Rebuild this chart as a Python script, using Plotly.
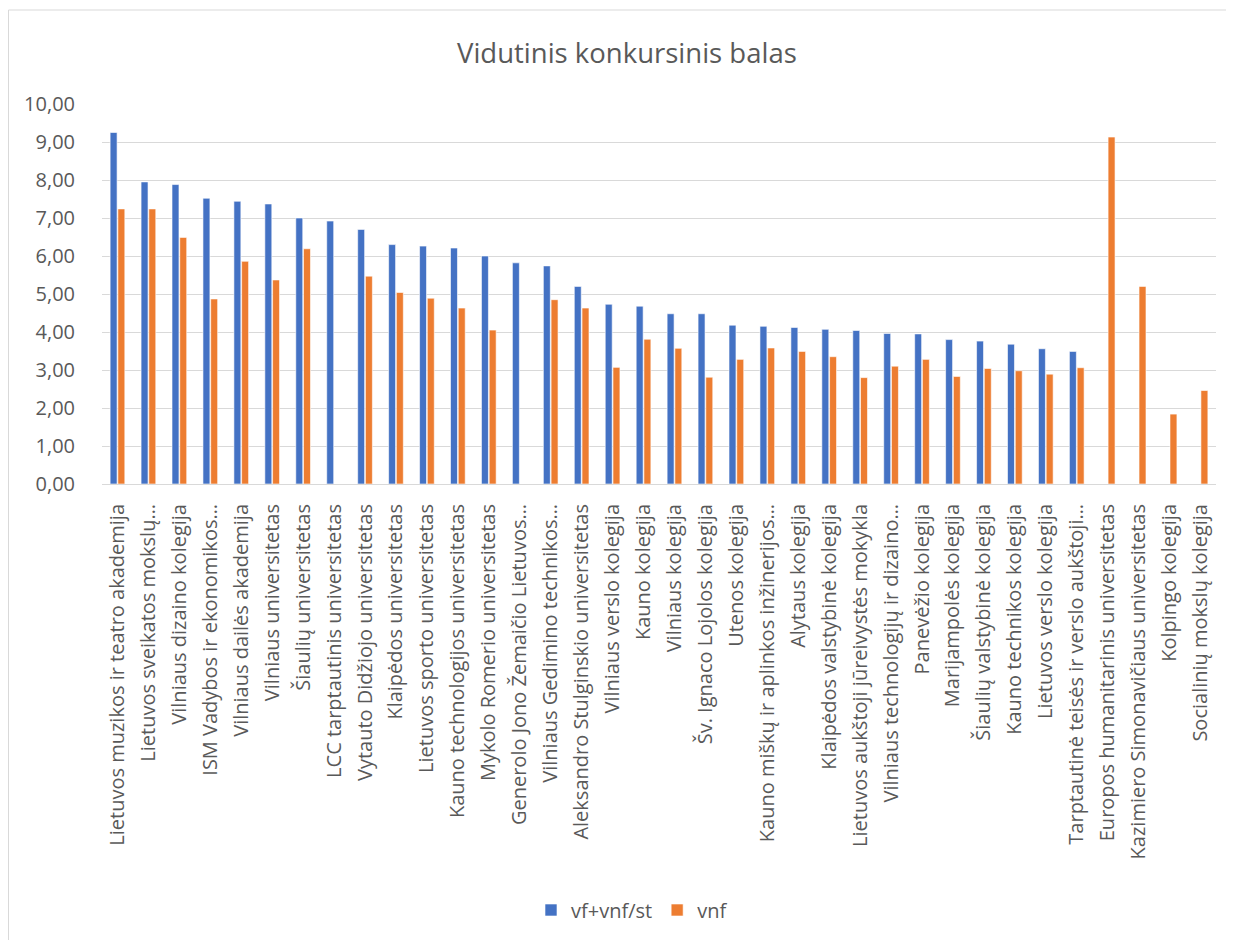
import plotly.graph_objects as go

categories = [
    "Lietuvos muzikos ir teatro akademija",
    "Lietuvos sveikatos mokslų…",
    "Vilniaus dizaino kolegija",
    "ISM Vadybos ir ekonomikos…",
    "Vilniaus dailės akademija",
    "Vilniaus universitetas",
    "Šiaulių universitetas",
    "LCC tarptautinis universitetas",
    "Vytauto Didžiojo universitetas",
    "Klaipėdos universitetas",
    "Lietuvos sporto universitetas",
    "Kauno technologijos universitetas",
    "Mykolo Romerio universitetas",
    "Generolo Jono Žemaičio Lietuvos…",
    "Vilniaus Gedimino technikos…",
    "Aleksandro Stulginskio universitetas",
    "Vilniaus verslo kolegija",
    "Kauno kolegija",
    "Vilniaus kolegija",
    "Šv. Ignaco Lojolos kolegija",
    "Utenos kolegija",
    "Kauno miškų ir aplinkos inžinerijos…",
    "Alytaus kolegija",
    "Klaipėdos valstybinė kolegija",
    "Lietuvos aukštoji jūreivystės mokykla",
    "Vilniaus technologijų ir dizaino…",
    "Panevėžio kolegija",
    "Marijampolės kolegija",
    "Šiaulių valstybinė kolegija",
    "Kauno technikos kolegija",
    "Lietuvos verslo kolegija",
    "Tarptautinė teisės ir verslo aukštoji…",
    "Europos humanitarinis universitetas",
    "Kazimiero Simonavičiaus universitetas",
    "Kolpingo kolegija",
    "Socialinių mokslų kolegija",
]

vf_vnf_st = [9.25, 7.95, 7.88, 7.52, 7.44, 7.37, 7.00, 6.92, 6.70, 6.30,
             6.26, 6.21, 6.00, 5.82, 5.74, 5.20, 4.73, 4.68, 4.48, 4.48,
             4.18, 4.15, 4.12, 4.07, 4.04, 3.96, 3.95, 3.80, 3.76, 3.68,
             3.56, 3.49, None, None, None, None]

vnf = [7.24, 7.24, 6.49, 4.87, 5.86, 5.37, 6.19, None, 5.47, 5.04,
       4.89, 4.63, 4.05, None, 4.85, 4.63, 3.07, 3.81, 3.57, 2.81,
       3.28, 3.58, 3.49, 3.35, 2.80, 3.10, 3.28, 2.83, 3.04, 2.98,
       2.89, 3.06, 9.13, 5.20, 1.84, 2.46]

y_ticks = [0, 1, 2, 3, 4, 5, 6, 7, 8, 9, 10]

FONT = "Open Sans"
TXT = "#595959"

W, H = 1226, 932
L, R, T, B = 94, 18, 96, 456
PW, PH = W - L - R, H - T - B


def px(x):
    return (x - L) / PW


def py(y):
    return (H - B - y) / PH


fig = go.Figure()
fig.add_trace(go.Bar(x=categories, y=vf_vnf_st, name="vf+vnf/st",
                     marker=dict(color="#4472C4", line=dict(color="white", width=0.6))))
fig.add_trace(go.Bar(x=categories, y=vnf, name="vnf",
                     marker=dict(color="#ED7D31", line=dict(color="white", width=0.6))))

fig.update_layout(
    width=W, height=H,
    paper_bgcolor="white", plot_bgcolor="white",
    margin=dict(l=L, r=R, t=T, b=B, autoexpand=False),
    barmode="group", bargap=0.5, bargroupgap=0.1,
    separators=", ",
    font=dict(family=FONT, color=TXT, size=20),
    showlegend=True,
    legend=dict(orientation="h", x=px(624), y=py(902), xanchor="center", yanchor="middle",
                font=dict(size=20, color=TXT), itemwidth=30, traceorder="normal"),
    annotations=[dict(text="Vidutinis konkursinis balas", x=px(619), y=py(44), xref="paper",
                      yref="paper", xanchor="center", yanchor="middle", showarrow=False,
                      font=dict(size=27.5, color=TXT))],
    shapes=[dict(type="rect", xref="paper", yref="paper",
                 x0=px(0.5), x1=px(1245), y0=py(950), y1=py(2),
                 line=dict(color="#D9D9D9", width=1), fillcolor="rgba(0,0,0,0)", layer="below")],
)

fig.update_xaxes(tickangle=-90, showgrid=False, showline=True, linecolor="#D9D9D9",
                 linewidth=1, ticks="", ticklabelstandoff=11, tickfont=dict(size=20, color=TXT))
fig.update_yaxes(range=[0, 10], tickvals=y_ticks, tickformat=".2f", showgrid=True,
                 gridcolor="#D9D9D9", gridwidth=1, zeroline=False, showline=False,
                 ticks="", ticklabelstandoff=26, tickfont=dict(size=20, color=TXT))

fig.write_html("out.html")
